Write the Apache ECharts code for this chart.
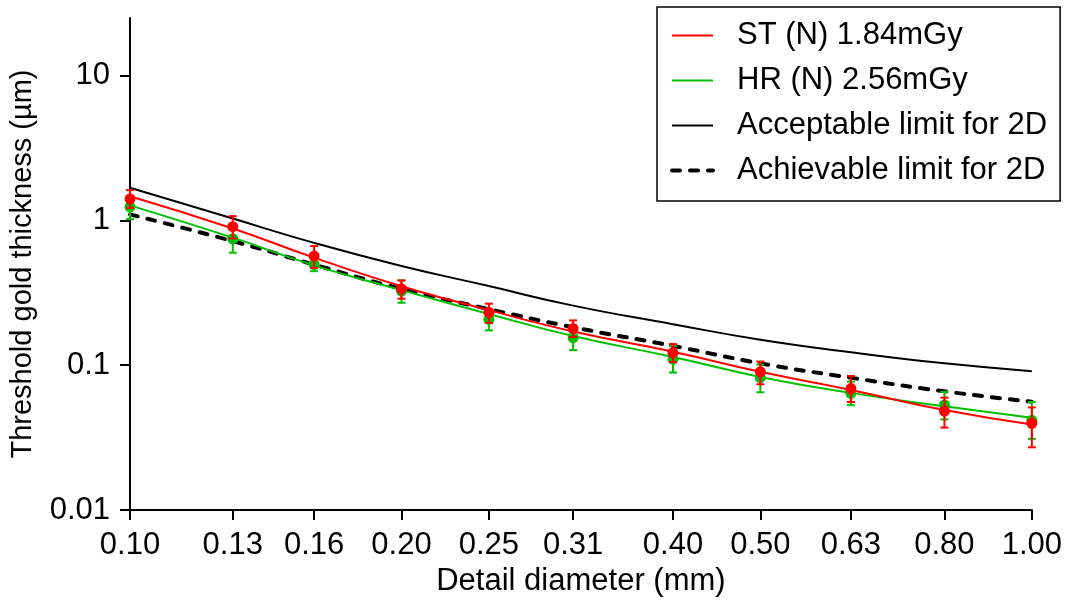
<!DOCTYPE html>
<html>
<head>
<meta charset="utf-8">
<script src="https://cdn.jsdelivr.net/npm/echarts@6/dist/echarts.min.js"></script>
<style>html,body{margin:0;padding:0;background:#fff;}#chart{width:1065px;height:602px;}</style>
</head>
<body>
<div id="chart"></div>
<script>
// Detail diameters (mm) — x-axis tick values
const diameters = [0.10, 0.13, 0.16, 0.20, 0.25, 0.31, 0.40, 0.50, 0.63, 0.80, 1.00];
const yTicks = [0.01, 0.1, 1, 10];

// Limit curves (µm)
const acceptable = [1.68, 1.03, 0.70, 0.485, 0.352, 0.258, 0.192, 0.150, 0.123, 0.103, 0.091];
const achievable = [1.10, 0.72, 0.495, 0.337, 0.244, 0.183, 0.136, 0.103, 0.082, 0.066, 0.056];

// Fitted curves
const stFit = [1.47, 0.88, 0.553, 0.351, 0.240, 0.171, 0.124, 0.090, 0.0675, 0.049, 0.039];
const hrFit = [1.27, 0.76, 0.489, 0.330, 0.226, 0.159, 0.114, 0.083, 0.0644, 0.052, 0.0434];

// Measured points with error bars
const stVal = [1.41, 0.905, 0.567, 0.337, 0.232, 0.179, 0.122, 0.090, 0.069, 0.0482, 0.0397];
const stLo  = [1.22, 0.75, 0.47, 0.288, 0.196, 0.157, 0.105, 0.0738, 0.0557, 0.0371, 0.0271];
const stHi  = [1.62, 1.07, 0.665, 0.385, 0.266, 0.204, 0.140, 0.106, 0.0843, 0.0597, 0.0511];
const hrVal = [1.24, 0.747, 0.497, 0.325, 0.207, 0.155, 0.110, 0.082, 0.064, 0.0532, 0.0416];
const hrLo  = [1.02, 0.598, 0.446, 0.270, 0.174, 0.127, 0.089, 0.065, 0.053, 0.0422, 0.031];
const hrHi  = [1.46, 0.90, 0.55, 0.385, 0.240, 0.188, 0.136, 0.101, 0.077, 0.0655, 0.0557];

const RED = '#ff0000', GREEN = '#00c000';
const FONT = "'Liberation Sans', Arial, sans-serif";

const pairs = (xs, ys) => xs.map((x, i) => [x, ys[i]]);
const triples = (xs, lo, hi) => xs.map((x, i) => [x, lo[i], hi[i]]);

function errRender(color) {
  return function (params, api) {
    const x = api.value(0), lo = api.value(1), hi = api.value(2);
    const a = api.coord([x, lo]), b = api.coord([x, hi]);
    const w = 4;
    const st = { stroke: color, lineWidth: 2 };
    return {
      type: 'group',
      children: [
        { type: 'line', shape: { x1: a[0], y1: a[1], x2: b[0], y2: b[1] }, style: st },
        { type: 'line', shape: { x1: a[0] - w, y1: a[1], x2: a[0] + w, y2: a[1] }, style: st },
        { type: 'line', shape: { x1: b[0] - w, y1: b[1], x2: b[0] + w, y2: b[1] }, style: st }
      ]
    };
  };
}

const chart = echarts.init(document.getElementById('chart'), null, { renderer: 'canvas' });
chart.setOption({
  animation: false,
  backgroundColor: '#ffffff',
  textStyle: { fontFamily: FONT },
  grid: { left: 126, right: 32, top: 18, bottom: 92, containLabel: false },
  legend: {
    data: ['ST (N) 1.84mGy', 'HR (N) 2.56mGy', 'Acceptable limit for 2D', 'Achievable limit for 2D'],
    orient: 'vertical',
    left: 657, top: 7,
    padding: [13, 13, 15, 13],
    borderColor: '#000', borderWidth: 1.5,
    backgroundColor: '#fff',
    itemWidth: 41, itemHeight: 14, itemGap: 14,
    itemStyle: { opacity: 0 },
    lineStyle: { width: 'inherit' },
    textStyle: { fontFamily: FONT, fontSize: 31, color: '#000', padding: [0, 0, 0, 19] }
  },
  xAxis: {
    type: 'log', logBase: 10, min: 0.1, max: 1.0,
    name: 'Detail diameter (mm)', nameLocation: 'middle', nameGap: 55,
    nameTextStyle: { fontFamily: FONT, fontSize: 31, color: '#000' },
    axisLine: { lineStyle: { color: '#000', width: 2 } },
    axisTick: { show: true, length: 10, inside: false, lineStyle: { color: '#000', width: 2 }, customValues: diameters },
    axisLabel: { fontFamily: FONT, fontSize: 31, color: '#000', margin: 20, customValues: diameters,
      formatter: v => Number(v).toFixed(2) },
    splitLine: { show: false }, minorTick: { show: false }
  },
  yAxis: {
    type: 'log', logBase: 10, min: 0.01, max: 25,
    name: 'Threshold gold thickness (\u00b5m)', nameLocation: 'middle', nameGap: 93,
    nameTextStyle: { fontFamily: FONT, fontSize: 29, color: '#000' },
    axisLine: { lineStyle: { color: '#000', width: 2 } },
    axisTick: { show: true, length: 10, inside: false, lineStyle: { color: '#000', width: 2 }, customValues: yTicks },
    axisLabel: { fontFamily: FONT, fontSize: 31, color: '#000', margin: 20, customValues: yTicks,
      formatter: v => String(+Number(v).toPrecision(3)) },
    splitLine: { show: false }, minorTick: { show: false }
  },
  series: [
    { name: 'Acceptable limit for 2D', type: 'line', data: pairs(diameters, acceptable), symbol: 'none', smooth: 0.5,
      lineStyle: { color: '#000', width: 2 }, itemStyle: { color: '#000' }, z: 2 },
    { name: 'Achievable limit for 2D', type: 'line', data: pairs(diameters, achievable), symbol: 'none', smooth: 0.5,
      lineStyle: { color: '#000', width: 4, type: [8, 10], cap: 'round' }, itemStyle: { color: '#000' }, z: 2 },
    { name: 'HR (N) 2.56mGy', type: 'line', data: pairs(diameters, hrFit), symbol: 'none', smooth: 0.5,
      lineStyle: { color: GREEN, width: 2 }, itemStyle: { color: GREEN }, z: 3 },
    { name: 'ST (N) 1.84mGy', type: 'line', data: pairs(diameters, stFit), symbol: 'none', smooth: 0.5,
      lineStyle: { color: RED, width: 2 }, itemStyle: { color: RED }, z: 3 },
    { name: 'HR err', type: 'custom', data: triples(diameters, hrLo, hrHi), encode: { x: 0, y: [1, 2] },
      renderItem: errRender(GREEN), z: 4, silent: true },
    { name: 'HR pts', type: 'scatter', data: pairs(diameters, hrVal), symbol: 'circle', symbolSize: 11,
      itemStyle: { color: GREEN, opacity: 1 }, z: 5 },
    { name: 'ST err', type: 'custom', data: triples(diameters, stLo, stHi), encode: { x: 0, y: [1, 2] },
      renderItem: errRender(RED), z: 6, silent: true },
    { name: 'ST pts', type: 'scatter', data: pairs(diameters, stVal), symbol: 'circle', symbolSize: 11,
      itemStyle: { color: RED, opacity: 1 }, z: 7 }
  ]
});
</script>
</body>
</html>
